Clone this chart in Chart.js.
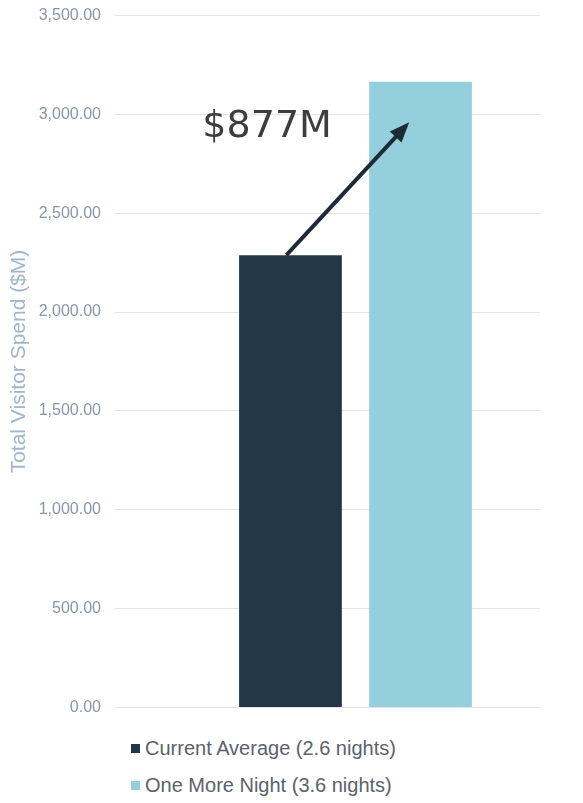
<!DOCTYPE html>
<html>
<head>
<meta charset="utf-8">
<script src="https://cdn.jsdelivr.net/npm/chart.js@4"></script>
<style>
  body { margin: 0; background: #fff; width: 583px; height: 803px; overflow: hidden; position: relative; }
  #wrap { position: absolute; left: 0; top: -8px; width: 583px; height: 739px; }
  #legend { position: absolute; left: 131px; top: 733px; font-family: "Liberation Sans", Arial, sans-serif; font-size: 20px; color: #5a626c; }
  #legend .item { height: 37px; line-height: 30px; white-space: nowrap; }
  #legend .box { display: inline-block; width: 9px; height: 9px; margin-right: 5px; vertical-align: 2px; }
</style>
</head>
<body>
<div id="wrap"><canvas id="spendChart"></canvas></div>
<div id="legend"></div>
<script>
// Visitor spend data ($M)
const categories = ['Total Visitor Spend'];
const seriesNames = ['Current Average (2.6 nights)', 'One More Night (3.6 nights)'];
const currentAverage = [2288];
const oneMoreNight = [3165];
const yMin = 0;
const yMax = 3500;
const yStep = 500;
const upliftLabel = '$877M';
const arrowTipValue = 2960;

const colors = ['#243746', '#93cfdc'];

// arrow + label annotation, placed from the bars and the y scale
const upliftArrow = {
    id: 'upliftArrow',
    afterDatasetsDraw(chart) {
        const ctx = chart.ctx;
        const yScale = chart.scales.y;
        const b1 = chart.getDatasetMeta(0).data[0];
        const b2 = chart.getDatasetMeta(1).data[0];
        if (!b1 || !b2) return;

        const x1 = b1.x - b1.width * 0.04;
        const y1 = b1.y;
        const x2 = b2.x - b2.width * 0.11;
        const y2 = yScale.getPixelForValue(arrowTipValue);
        const ang = Math.atan2(y2 - y1, x2 - x1);
        const headLen = 20, headW = 8;

        ctx.save();
        ctx.strokeStyle = '#1d2b37';
        ctx.fillStyle = '#1d2b37';
        ctx.lineWidth = 4;
        ctx.beginPath();
        ctx.moveTo(x1, y1);
        ctx.lineTo(x2 - Math.cos(ang) * headLen * 0.8, y2 - Math.sin(ang) * headLen * 0.8);
        ctx.stroke();

        ctx.beginPath();
        ctx.moveTo(x2, y2);
        ctx.lineTo(x2 - Math.cos(ang) * headLen + Math.sin(ang) * headW,
                   y2 - Math.sin(ang) * headLen - Math.cos(ang) * headW);
        ctx.lineTo(x2 - Math.cos(ang) * headLen - Math.sin(ang) * headW,
                   y2 - Math.sin(ang) * headLen + Math.cos(ang) * headW);
        ctx.closePath();
        ctx.fill();

        ctx.font = '38px "DejaVu Sans", sans-serif';
        ctx.fillStyle = '#3d3d3d';
        ctx.textAlign = 'right';
        ctx.textBaseline = 'middle';
        ctx.fillText(upliftLabel, b1.x + b1.width / 2 - 10, y2 + 5);
        ctx.restore();
    }
};

const chart = new Chart(document.getElementById('spendChart').getContext('2d'), {
    type: 'bar',
    data: {
        labels: categories,
        datasets: [
            {
                label: seriesNames[0],
                data: currentAverage,
                backgroundColor: colors[0],
                categoryPercentage: 0.705,
                barPercentage: 0.79
            },
            {
                label: seriesNames[1],
                data: oneMoreNight,
                backgroundColor: colors[1],
                categoryPercentage: 0.705,
                barPercentage: 0.79
            }
        ]
    },
    options: {
        responsive: true,
        maintainAspectRatio: false,
        animation: false,
        layout: {
            padding: { top: 6, right: 43, bottom: 10, left: 0 }
        },
        scales: {
            x: {
                display: false
            },
            y: {
                min: yMin,
                max: yMax,
                afterFit(scale) { scale.width = 171; },
                ticks: {
                    stepSize: yStep,
                    padding: 14,
                    color: '#8797ab',
                    font: { family: '"Liberation Sans", Arial, sans-serif', size: 16 },
                    callback: v => v.toLocaleString('en-US', { minimumFractionDigits: 2, maximumFractionDigits: 2 })
                },
                grid: {
                    color: '#e4e4e4',
                    lineWidth: 1,
                    drawTicks: true,
                    tickLength: 56
                },
                border: { display: false },
                title: {
                    display: true,
                    text: 'Total Visitor Spend ($M)',
                    color: '#a2b6ca',
                    padding: { top: 7, bottom: 0 },
                    font: { family: '"Liberation Sans", Arial, sans-serif', size: 21 }
                }
            }
        },
        plugins: {
            legend: { display: false },
            tooltip: { enabled: false }
        }
    },
    plugins: [upliftArrow]
});

// legend stacked in two rows, as in the original
const legendEl = document.getElementById('legend');
chart.data.datasets.forEach(ds => {
    const row = document.createElement('div');
    row.className = 'item';
    const box = document.createElement('span');
    box.className = 'box';
    box.style.background = ds.backgroundColor;
    row.appendChild(box);
    row.appendChild(document.createTextNode(ds.label));
    legendEl.appendChild(row);
});
</script>
</body>
</html>
